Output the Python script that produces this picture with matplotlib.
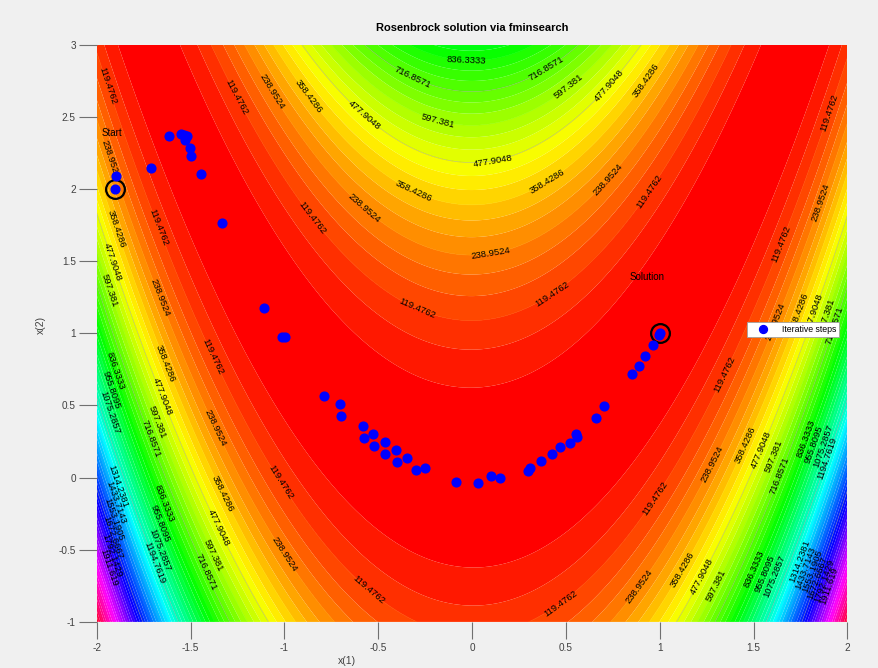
import numpy as np
import matplotlib
matplotlib.use("Agg")
import matplotlib.pyplot as plt

plt.rcParams['font.family'] = ['Liberation Sans', 'DejaVu Sans']
plt.rcParams['axes.unicode_minus'] = False

# Rosenbrock function f = (a - x)^2 + b*(y - x^2)^2
a_param = 1.0
b_param = 100.0
x_range = [-2, 2]
y_range = [-1, 3]

n_label_levels = 21     # contour lines every max/21
n_fill_levels = 63      # fill bands every max/63
gray_line_idx = [4, 6, 10, 14]   # lines that show up grey in the picture

# fminsearch iterations
step_x = [-1.9, -1.898, -1.709, -1.614, -1.551, -1.533, -1.519, -1.528, -1.504, -1.499,
          -1.444, -1.331, -1.106, -1.010, -0.995, -0.790, -0.705, -0.699, -0.582, -0.578,
          -0.526, -0.520, -0.466, -0.462, -0.406, -0.402, -0.348, -0.301, -0.253, -0.086,
          0.033, 0.103, 0.151, 0.297, 0.311, 0.370, 0.428, 0.467, 0.520, 0.552,
          0.560, 0.662, 0.703, 0.853, 0.889, 0.923, 0.966, 0.995, 1.000]
step_y = [2.0, 2.092, 2.144, 2.370, 2.381, 2.373, 2.370, 2.337, 2.283, 2.228,
          2.102, 1.765, 1.178, 0.973, 0.973, 0.563, 0.513, 0.428, 0.358, 0.273,
          0.303, 0.219, 0.248, 0.162, 0.191, 0.106, 0.137, 0.054, 0.069, -0.027,
          -0.038, 0.012, -0.003, 0.048, 0.067, 0.115, 0.162, 0.209, 0.239, 0.302,
          0.284, 0.410, 0.498, 0.720, 0.776, 0.843, 0.920, 0.985, 1.000]

start_pt = (-1.9, 2.0)
solution_pt = (1.0, 1.0)

# where the clabels sit, per level index (1..16)
label_pos = {
    1: [(-1.86, 2.75), (-1.25, 2.64), (-0.855, 1.80), (-0.29, 1.17), (0.43, 1.27), (0.95, 1.98),
        (1.90, 2.53), (1.64, 1.62), (1.35, 0.71), (0.98, -0.15), (0.47, -0.87), (-0.55, -0.78),
        (-1.02, -0.03), (-1.38, 0.84), (-1.68, 1.73)],
    2: [(-1.94, 2.20), (-1.07, 2.67), (-0.59, 1.85), (0.10, 1.56), (0.72, 2.07), (1.86, 1.91),
        (1.62, 1.08), (1.29, 0.09), (0.90, -0.76), (-1.00, -0.53), (-1.375, 0.34), (-1.665, 1.25)],
    3: [(-0.88, 2.63), (-0.32, 1.96), (0.40, 2.05), (0.93, 2.75), (1.74, 1.15), (1.46, 0.22),
        (1.12, -0.64), (-1.33, -0.11), (-1.64, 0.79), (-1.90, 1.72)],
    4: [(-0.57, 2.52), (0.73, 2.72), (0.11, 2.20), (1.82, 1.145), (1.55, 0.19), (1.23, -0.69),
        (-1.35, -0.35), (-1.65, 0.56), (-1.92, 1.49)],
    5: [(-0.18, 2.47), (0.52, 2.70), (1.90, 1.12), (1.61, 0.145), (1.31, -0.75), (-1.38, -0.54),
        (-1.67, 0.385), (-1.94, 1.29)],
    6: [(-0.31, 2.80), (0.41, 2.80), (1.94, 1.05), (1.64, 0.01), (-1.43, -0.66), (-1.71, 0.275)],
    7: [(-0.03, 2.90), (1.78, 0.27), (1.51, -0.64), (-1.64, -0.18), (-1.905, 0.735)],
    8: [(1.82, 0.23), (1.55, -0.66), (-1.64, -0.31), (-1.92, 0.61)],
    9: [(1.87, 0.22), (1.615, -0.685), (-1.66, -0.50), (-1.91, 0.46)],
    10: [(1.90, 0.13), (-1.69, -0.59)],
    11: [(1.74, -0.58), (-1.88, -0.06)],
    12: [(1.78, -0.63), (-1.89, -0.17)],
    13: [(1.82, -0.65), (-1.91, -0.29)],
    14: [(1.86, -0.70), (-1.91, -0.41)],
    15: [(1.88, -0.72), (-1.92, -0.54)],
    16: [(1.91, -0.75), (-1.94, -0.63)],
}

xg = np.linspace(x_range[0], x_range[1], 401)
yg = np.linspace(y_range[0], y_range[1], 401)
X, Y = np.meshgrid(xg, yg)
Z = (a_param - X) ** 2 + b_param * (Y - X ** 2) ** 2
zmax = Z.max()

fill_levels = np.linspace(0, zmax, n_fill_levels + 1)
line_levels = np.linspace(0, zmax, n_label_levels + 1)[1:-1]

hsv = plt.get_cmap('hsv')
band_colors = [hsv(v / zmax) for v in fill_levels[:-1]]

fig = plt.figure(figsize=(8.79, 6.68), dpi=100, facecolor='#f0f0f0')
ax = fig.add_axes([0.110, 0.069, 0.854, 0.864])

ax.contourf(X, Y, Z, levels=fill_levels, colors=band_colors, antialiased=True)


def fmt(v):
    return ('%.4f' % v).rstrip('0').rstrip('.')


# one contour set per level so each label snaps onto its own line
for k, lev in enumerate(line_levels, start=1):
    if k in gray_line_idx:
        line_col = (0.54, 0.54, 0.48, 0.45)
    else:
        line_col = hsv(lev / zmax)
    cs = ax.contour(X, Y, Z, levels=[lev], colors=[line_col], linewidths=0.5)
    if k in label_pos:
        cs.clabel(manual=label_pos[k], inline=False, fontsize=6.8, colors='k', fmt=fmt)

ax.plot(step_x, step_y, 'o', color='blue', markersize=6.3, linestyle='none',
        label='Iterative steps', zorder=5)
ax.plot([start_pt[0], solution_pt[0]], [start_pt[1], solution_pt[1]], 'o',
        markersize=13.5, markerfacecolor='none', markeredgecolor='k',
        markeredgewidth=1.6, zorder=4)

ax.text(-1.975, 2.39, 'Start', fontsize=7, ha='left', va='center', zorder=6)
ax.text(0.84, 1.39, 'Solution', fontsize=7, ha='left', va='center', zorder=6)

ax.set_xlim(x_range)
ax.set_ylim(y_range)
ax.set_xticks([-2, -1.5, -1, -0.5, 0, 0.5, 1, 1.5, 2])
ax.set_yticks([-1, -0.5, 0, 0.5, 1, 1.5, 2, 2.5, 3])
ax.set_xticklabels(['-2', '-1.5', '-1', '-0.5', '0', '0.5', '1', '1.5', '2'])
ax.set_yticklabels(['-1', '-0.5', '0', '0.5', '1', '1.5', '2', '2.5', '3'])
ax.tick_params(direction='out', width=0.8, color='#707070',
               labelcolor='#404040', labelsize=7.2)
ax.tick_params(axis='y', length=13, pad=2)
ax.tick_params(axis='x', length=12, pad=3)
for s in ax.spines.values():
    s.set_visible(False)

ax.set_xlabel('x(1)', fontsize=7.5, color='#404040')
ax.set_ylabel('x(2)', fontsize=7.5, color='#404040')
ax.xaxis.set_label_coords(0.333, -0.059)
ax.yaxis.set_label_coords(-0.068, 0.515)
ax.set_title('Rosenbrock solution via fminsearch', fontsize=8,
             fontweight='bold', pad=10)

leg = ax.legend(loc='center', bbox_to_anchor=(0.9027, 0.5067),
                bbox_transform=fig.transFigure, fontsize=6.3, frameon=True,
                fancybox=False, edgecolor='#a0a0a0', framealpha=1,
                handlelength=3.0, handletextpad=0.7, borderpad=0.3,
                markerscale=0.9)
leg.get_frame().set_linewidth(0.6)

fig.savefig('out.png', dpi=100, facecolor=fig.get_facecolor())
